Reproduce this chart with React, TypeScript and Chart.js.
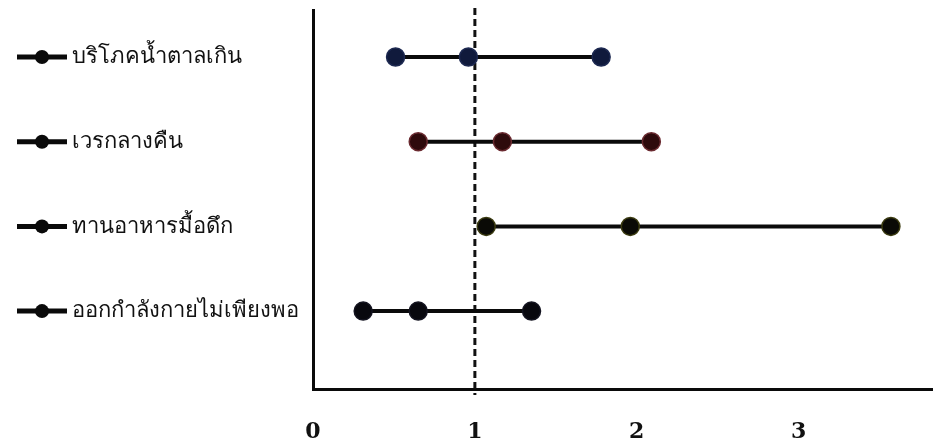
import React, { useEffect, useRef } from "react";
import { Chart, registerables } from "chart.js";

Chart.register(...registerables);

const categories = [
  "บริโภคน้ำตาลเกิน",
  "เวรกลางคืน",
  "ทานอาหารมื้อดึก",
  "ออกกำลังกายไม่เพียงพอ",
];
const lowValues = [0.51, 0.65, 1.07, 0.31];
const midValues = [0.96, 1.17, 1.96, 0.65];
const highValues = [1.78, 2.09, 3.57, 1.35];
const pointColors = ["#101a3c", "#2e0a0c", "#0a0a06", "#08080e"];
const pointHalo = ["#1c2850", "#6a2a30", "#3a3a10", "#141420"];
const xTicks = [0, 1, 2, 3];
const referenceValue = 1;

export default function App() {
  const ref = useRef<HTMLCanvasElement | null>(null);

  useEffect(() => {
    if (!ref.current) return;
    const n = categories.length;
    const datasets = categories.map((c, i) => ({
      label: c,
      data: [
        { x: lowValues[i], y: n - i },
        { x: midValues[i], y: n - i },
        { x: highValues[i], y: n - i },
      ],
      showLine: true,
      borderColor: "#0a0a0a",
      borderWidth: 4,
      pointRadius: 9,
      pointBorderWidth: 1.5,
      pointBackgroundColor: pointColors[i],
      pointBorderColor: pointHalo[i],
    }));

    const decorations = {
      id: "decorations",
      beforeDatasetsDraw(chart: any) {
        const { ctx, chartArea, scales } = chart;
        const x = scales.x.getPixelForValue(referenceValue);
        ctx.save();
        ctx.strokeStyle = "#111";
        ctx.lineWidth = 3;
        ctx.setLineDash([7, 4]);
        ctx.beginPath();
        ctx.moveTo(x, chartArea.top - 2);
        ctx.lineTo(x, chartArea.bottom + 6);
        ctx.stroke();
        ctx.restore();
      },
      afterDraw(chart: any) {
        const { ctx, scales } = chart;
        ctx.save();
        categories.forEach((c, i) => {
          const y = scales.y.getPixelForValue(n - i);
          ctx.strokeStyle = "#0a0a0a";
          ctx.lineWidth = 5;
          ctx.beginPath();
          ctx.moveTo(17, y);
          ctx.lineTo(67, y);
          ctx.stroke();
          ctx.fillStyle = "#0a0a0a";
          ctx.beginPath();
          ctx.arc(42, y, 7, 0, Math.PI * 2);
          ctx.fill();
        });
        ctx.restore();
      },
    };

    const chart = new Chart(ref.current, {
      type: "scatter",
      data: { datasets },
      options: {
        responsive: false,
        animation: false,
        devicePixelRatio: 1,
        layout: { autoPadding: false, padding: { left: 72, top: 10, right: 0, bottom: 0 } },
        plugins: {
          legend: { display: false },
          tooltip: { enabled: false },
        },
        scales: {
          x: {
            type: "linear",
            min: 0,
            max: 3.83,
            afterFit(scale: any) {
              scale.height = 54;
              scale.paddingLeft = 0;
              scale.paddingRight = 0;
            },
            afterBuildTicks(scale: any) {
              scale.ticks = xTicks.map((v) => ({ value: v }));
            },
            ticks: {
              includeBounds: false,
              autoSkip: false,
              padding: 30,
              color: "#111",
              maxRotation: 0,
              font: { family: "'DejaVu Serif', serif", size: 22, weight: "bold" },
              callback: (v: any) => String(v),
            },
            grid: { display: false, drawTicks: false },
            border: { display: true, color: "#0a0a0a", width: 3 },
          },
          y: {
            type: "linear",
            min: 0.08,
            max: 4.555,
            afterFit(scale: any) {
              scale.width = 241;
              scale.paddingTop = 0;
              scale.paddingBottom = 0;
            },
            afterBuildTicks(scale: any) {
              scale.ticks = categories.map((c, i) => ({ value: n - i }));
            },
            ticks: {
              crossAlign: "far",
              autoSkip: false,
              color: "#111",
              font: { family: "'Noto Sans', 'DejaVu Sans', sans-serif", size: 22 },
              callback: (v: any) => categories[n - Number(v)] ?? "",
            },
            grid: { display: false, drawTicks: false },
            border: { display: true, color: "#0a0a0a", width: 3 },
          },
        },
      },
      plugins: [decorations],
    } as any);
    return () => chart.destroy();
  }, []);

  return (
    <div style={{ position: "fixed", left: 0, top: 0, width: 933, height: 443, background: "#fff" }}>
      <canvas ref={ref} width={933} height={443} style={{ width: 933, height: 443, display: "block" }} />
    </div>
  );
}
